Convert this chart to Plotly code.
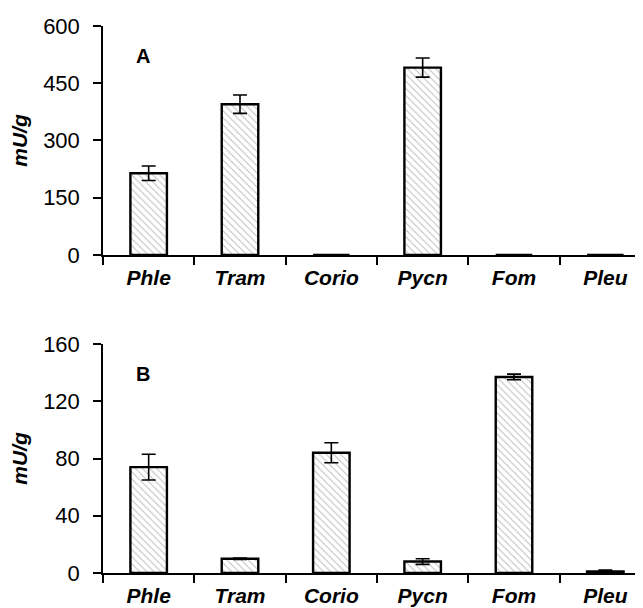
import plotly.graph_objects as go
from plotly.subplots import make_subplots

categories = ["Phle", "Tram", "Corio", "Pycn", "Fom", "Pleu"]
values_a = [214, 395, 0, 491, 0, 0]
errors_a = [19, 24, 0, 25, 0, 0]
values_b = [74, 10, 84, 8, 137, 1]
errors_b = [9, 0.5, 7, 2, 2, 1]
yticks_a = [0, 150, 300, 450, 600]
yticks_b = [0, 40, 80, 120, 160]
panel_labels = ["A", "B"]
y_title = "mU/g"

FONT = "Liberation Sans, Arial, sans-serif"

fig = make_subplots(rows=2, cols=1, vertical_spacing=0.1628)

def add_bars(vals, errs, row):
    fig.add_trace(go.Bar(
        x=categories, y=vals, width=0.4,
        marker=dict(color="white",
                    line=dict(color="black", width=2.4),
                    pattern=dict(shape="\\", size=5, solidity=0.2,
                                 fgcolor="#7a7a7a", bgcolor="white")),
        error_y=dict(type="data", array=errs, visible=True,
                     color="black", thickness=1.6, width=7),
        showlegend=False,
    ), row=row, col=1)

add_bars(values_a, errors_a, 1)
add_bars(values_b, errors_b, 2)

xcommon = dict(showline=True, linecolor="black", linewidth=1.5,
               ticks="outside", tickson="boundaries", ticklen=8,
               tickcolor="black", tickwidth=1.5,
               range=[-0.5, 5.5], showgrid=False, zeroline=False,
               tickfont=dict(family=FONT, size=21, color="black"),
               ticklabelstandoff=3)
ycommon = dict(showline=True, linecolor="black", linewidth=1.5,
               ticks="outside", ticklen=8, tickcolor="black", tickwidth=1.5,
               showgrid=False, zeroline=False,
               tickfont=dict(family=FONT, size=22, color="black"),
               ticklabelstandoff=9,
               title=dict(text="<b><i>" + y_title + "</i></b>",
                          font=dict(family=FONT, size=21, color="black"),
                          standoff=12))

fig.update_xaxes(**xcommon)
fig.update_yaxes(**ycommon)
fig.update_xaxes(categoryorder="array", categoryarray=categories,
                 tickvals=categories,
                 ticktext=["<b><i>" + c + "</i></b>" for c in categories])
fig.update_yaxes(range=[0, 600], tickvals=yticks_a, row=1, col=1)
fig.update_yaxes(range=[0, 160], tickvals=yticks_b, row=2, col=1)

fig.add_annotation(text="<b>" + panel_labels[0] + "</b>", xref="x domain", yref="y domain",
                   x=0.057, y=0.925, showarrow=False,
                   font=dict(family=FONT, size=20, color="black"))
fig.add_annotation(text="<b>" + panel_labels[1] + "</b>", xref="x2 domain", yref="y2 domain",
                   x=0.057, y=0.925, showarrow=False,
                   font=dict(family=FONT, size=20, color="black"))

fig.update_layout(
    width=643, height=608,
    margin=dict(l=95, r=0, t=18, b=43),
    plot_bgcolor="white", paper_bgcolor="white",
    bargap=0.6,
    font=dict(family=FONT, color="black"),
)

fig.write_html("out.html")
